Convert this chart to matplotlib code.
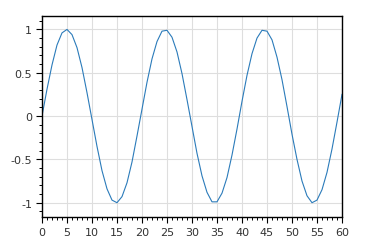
import matplotlib
matplotlib.use("Agg")
import matplotlib.pyplot as plt
from matplotlib.ticker import MultipleLocator

x_vals = list(range(61))
y_vals = [0.00, 0.31, 0.59, 0.82, 0.96, 1.00, 0.94, 0.79, 0.56, 0.27,
          -0.04, -0.35, -0.63, -0.84, -0.97, -1.00, -0.93, -0.77, -0.53, -0.23,
          0.08, 0.39, 0.66, 0.86, 0.98, 0.99, 0.91, 0.74, 0.49, 0.19,
          -0.12, -0.43, -0.69, -0.88, -0.99, -0.99, -0.89, -0.71, -0.45, -0.15,
          0.17, 0.47, 0.72, 0.90, 0.99, 0.98, 0.88, 0.68, 0.42, 0.11,
          -0.21, -0.50, -0.75, -0.92, -1.00, -0.97, -0.85, -0.65, -0.38, -0.07,
          0.25]
x_ticks = [0, 5, 10, 15, 20, 25, 30, 35, 40, 45, 50, 55, 60]
y_ticks = [-1, -0.5, 0, 0.5, 1]
y_labels = ["-1", "-0.5", "0", "0.5", "1"]

fig = plt.figure(figsize=(3.65, 2.51), dpi=100)
ax = fig.add_axes([42 / 365, 1 - 218 / 251, 300 / 365, 201 / 251])

ax.plot(x_vals, y_vals, color="#2b7bba", linewidth=0.8)

ax.set_xlim(0, 60)
ax.set_ylim(-1.165, 1.155)
ax.set_xticks(x_ticks)
ax.set_yticks(y_ticks)
ax.set_yticklabels(y_labels)
ax.xaxis.set_minor_locator(MultipleLocator(1))
ax.yaxis.set_minor_locator(MultipleLocator(0.1))

ax.grid(True, which="major", color="#dedede", linewidth=0.8)
ax.set_axisbelow(True)
ax.tick_params(which="major", direction="out", length=4, width=0.8,
               labelsize=8, labelcolor="#333333", pad=3)
ax.tick_params(which="minor", direction="out", length=2, width=0.7)
ax.tick_params(axis="x", which="both", bottom=True, top=False)
ax.tick_params(axis="y", which="both", left=True, right=False)
for sp in ax.spines.values():
    sp.set_color("black")
    sp.set_linewidth(1.0)

fig.savefig("out.png", dpi=100)
